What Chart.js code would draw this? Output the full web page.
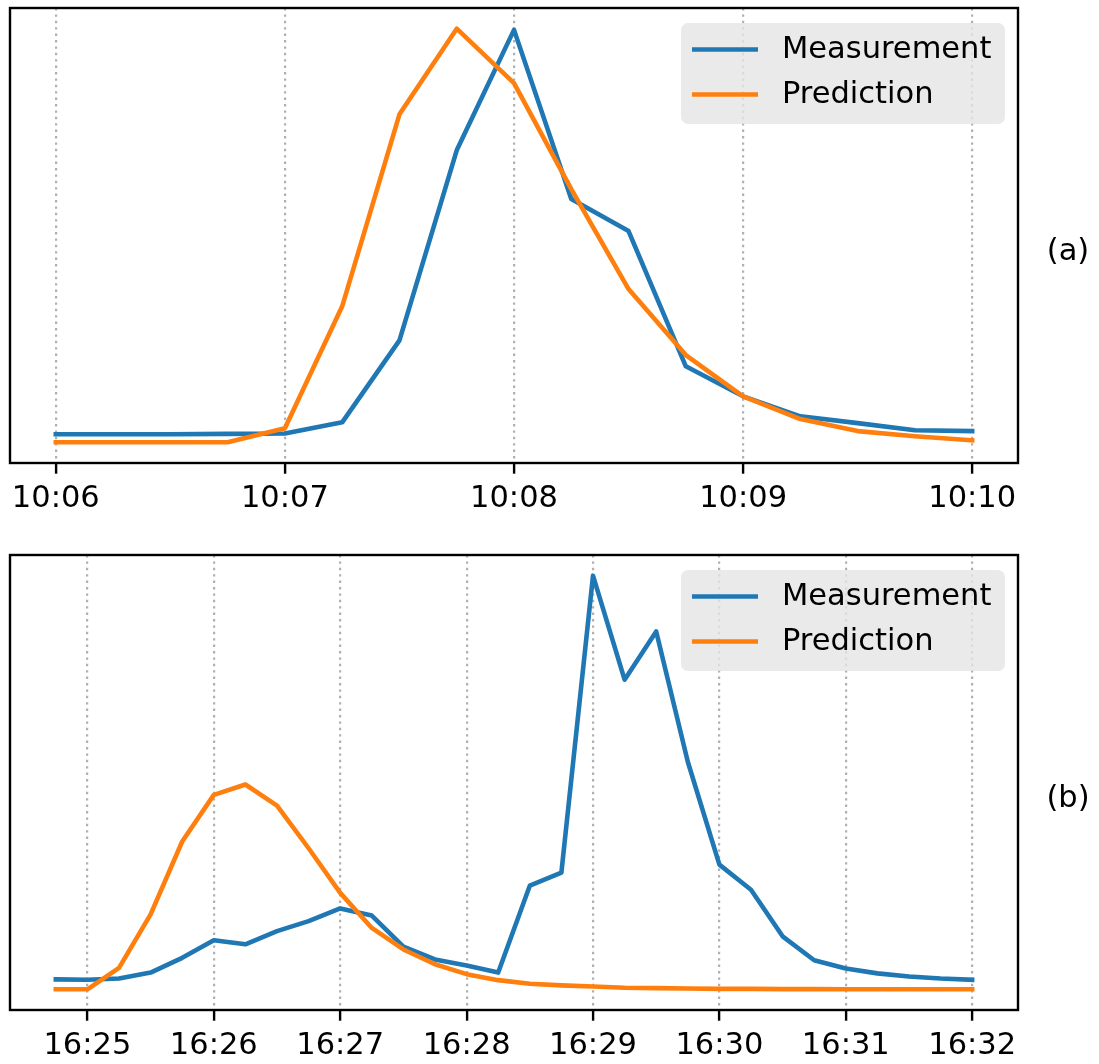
<!DOCTYPE html>
<html>
<head>
<meta charset="utf-8">
<script src="https://cdn.jsdelivr.net/npm/chart.js@4.4.1/dist/chart.umd.min.js"></script>
<style>
  html, body { margin: 0; padding: 0; background: #fff; }
  #wrap { position: relative; width: 1099px; height: 1064px; overflow: hidden; }
  .panel { position: absolute; left: 0; width: 1099px; height: 532px; }
  #pa { top: 0; }
  #pb { top: 532px; }
  .tag { position: absolute; font-family: "DejaVu Sans", sans-serif; font-size: 30.5px; color: #000;
         line-height: 1; transform: translate(-50%, -50%); white-space: nowrap; }
</style>
</head>
<body>
<div id="wrap">
  <div class="panel" id="pa"><canvas id="ca" width="1099" height="532"></canvas></div>
  <div class="panel" id="pb"><canvas id="cb" width="1099" height="532"></canvas></div>
  <div class="tag" style="left:1068px; top:250px;">(a)</div>
  <div class="tag" style="left:1068px; top:797px;">(b)</div>
</div>
<script>
// Event (a): 10:06 – 10:10, one sample every 15 s
const timesA = ['10:06:00','10:06:15','10:06:30','10:06:45','10:07:00','10:07:15','10:07:30','10:07:45',
                '10:08:00','10:08:15','10:08:30','10:08:45','10:09:00','10:09:15','10:09:30','10:09:45','10:10:00'];
const measurementA = [2.5, 2.5, 2.5, 2.6, 2.7, 5.5, 26.0, 73.5, 103.6, 61.3, 53.3, 19.5, 12.0, 7.0, 5.3, 3.5, 3.3];
const predictionA  = [0.5, 0.5, 0.5, 0.5, 4.0, 34.5, 82.5, 103.9, 90.3, 63.8, 38.8, 22.3, 12.0, 6.3, 3.3, 2.0, 1.0];
const ticksA = ['10:06', '10:07', '10:08', '10:09', '10:10'];

// Event (b): 16:24:45 – 16:32, one sample every 15 s
const timesB = ['16:24:45','16:25:00','16:25:15','16:25:30','16:25:45','16:26:00','16:26:15','16:26:30',
                '16:26:45','16:27:00','16:27:15','16:27:30','16:27:45','16:28:00','16:28:15','16:28:30',
                '16:28:45','16:29:00','16:29:15','16:29:30','16:29:45','16:30:00','16:30:15','16:30:30',
                '16:30:45','16:31:00','16:31:15','16:31:30','16:31:45','16:32:00'];
const measurementB = [2.5, 2.4, 2.7, 4.2, 7.9, 12.3, 11.3, 14.6, 17.1, 20.3, 18.5, 10.7, 7.5, 6.0, 4.2,
                      26.0, 29.3, 103.8, 77.7, 89.8, 57.1, 31.3, 25.0, 13.3, 7.3, 5.2, 4.0, 3.2, 2.7, 2.4];
const predictionB  = [0.0, 0.0, 5.4, 18.8, 37.1, 48.8, 51.4, 46.1, 35.4, 24.2, 15.4, 10.0, 6.3, 3.8, 2.3,
                      1.4, 1.0, 0.7, 0.4, 0.3, 0.2, 0.1, 0.1, 0.05, 0.05, 0.0, 0.0, 0.0, 0.0, 0.0];
const ticksB = ['16:25', '16:26', '16:27', '16:28', '16:29', '16:30', '16:31', '16:32'];

const FONT = 'DejaVu Sans';
const FONT_SIZE = 30.5;
const BLUE = '#1f77b4';
const ORANGE = '#ff7f0e';

function toSec(t) {
  const p = t.split(':').map(Number);
  return p[0] * 3600 + p[1] * 60 + (p[2] || 0);
}

// Axes box drawn around the plotting area
const framePlugin = {
  id: 'frame',
  afterDatasetsDraw(chart) {
    const a = chart.chartArea, ctx = chart.ctx;
    ctx.save();
    ctx.lineWidth = 2.4;
    ctx.strokeStyle = '#000';
    ctx.strokeRect(a.left, a.top, a.right - a.left, a.bottom - a.top);
    ctx.restore();
  }
};

// Legend panel in the upper right corner, built from the datasets
const legendPlugin = {
  id: 'legendPanel',
  afterDatasetsDraw(chart) {
    const a = chart.chartArea, ctx = chart.ctx;
    const w = 324, h = 101;
    const x0 = a.right - 13 - w, y0 = a.top + 15;
    ctx.save();
    ctx.fillStyle = 'rgba(229,229,229,0.8)';
    ctx.beginPath();
    if (ctx.roundRect) ctx.roundRect(x0, y0, w, h, 7); else ctx.rect(x0, y0, w, h);
    ctx.fill();
    ctx.font = FONT_SIZE + 'px "' + FONT + '"';
    ctx.textBaseline = 'middle';
    ctx.textAlign = 'left';
    chart.data.datasets.forEach((ds, i) => {
      const y = y0 + 26.5 + i * 45;
      ctx.strokeStyle = ds.borderColor;
      ctx.lineWidth = ds.borderWidth;
      ctx.lineCap = 'butt';
      ctx.beginPath();
      ctx.moveTo(x0 + 11, y);
      ctx.lineTo(x0 + 77, y);
      ctx.stroke();
      ctx.fillStyle = '#000';
      ctx.fillText(ds.label, x0 + 101, y + 1);
    });
    ctx.restore();
  }
};

function makeChart(canvasId, times, meas, pred, tickLabels, padTop, axisHeight) {
  const xs = times.map(toSec);
  const tickVals = tickLabels.map(toSec);
  const xSpan = xs[xs.length - 1] - xs[0];
  const all = meas.concat(pred);
  const yMin = Math.min(...all), yMax = Math.max(...all);
  const ySpan = yMax - yMin;

  return new Chart(document.getElementById(canvasId), {
    type: 'line',
    data: {
      datasets: [
        { label: 'Measurement', data: xs.map((x, i) => ({ x, y: meas[i] })),
          borderColor: BLUE, backgroundColor: BLUE, borderWidth: 4.6, pointRadius: 0, tension: 0,
          fill: false, borderJoinStyle: 'round', borderCapStyle: 'square', order: 1 },
        { label: 'Prediction', data: xs.map((x, i) => ({ x, y: pred[i] })),
          borderColor: ORANGE, backgroundColor: ORANGE, borderWidth: 4.6, pointRadius: 0, tension: 0,
          fill: false, borderJoinStyle: 'round', borderCapStyle: 'square', order: 0 }
      ]
    },
    options: {
      responsive: false,
      animation: false,
      devicePixelRatio: 1,
      events: [],
      layout: { padding: { left: 10, right: 81, top: padTop, bottom: 0 } },
      plugins: { legend: { display: false }, tooltip: { enabled: false }, title: { display: false } },
      scales: {
        x: {
          type: 'linear',
          min: xs[0] - 0.05 * xSpan,
          max: xs[xs.length - 1] + 0.05 * xSpan,
          afterBuildTicks(scale) { scale.ticks = tickVals.map(v => ({ value: v })); },
          afterFit(scale) { scale.height = axisHeight; },
          ticks: {
            autoSkip: false, maxRotation: 0, minRotation: 0,
            color: '#000', padding: 7,
            font: { family: FONT, size: FONT_SIZE },
            callback: (v, i) => tickLabels[i]
          },
          grid: {
            color: '#b0b0b0', lineWidth: 2.2, borderDash: [2.4, 4],
            tickColor: '#000', tickWidth: 2.4, tickLength: 10.7, tickBorderDash: [],
            drawOnChartArea: true, drawTicks: true
          },
          border: { display: false, dash: [2.4, 4] }
        },
        y: {
          display: false,
          min: yMin - 0.05 * ySpan,
          max: yMax + 0.05 * ySpan
        }
      }
    },
    plugins: [framePlugin, legendPlugin]
  });
}

makeChart('ca', timesA, measurementA, predictionA, ticksA, 8, 69);
makeChart('cb', timesB, measurementB, predictionB, ticksB, 23, 54);
</script>
</body>
</html>
